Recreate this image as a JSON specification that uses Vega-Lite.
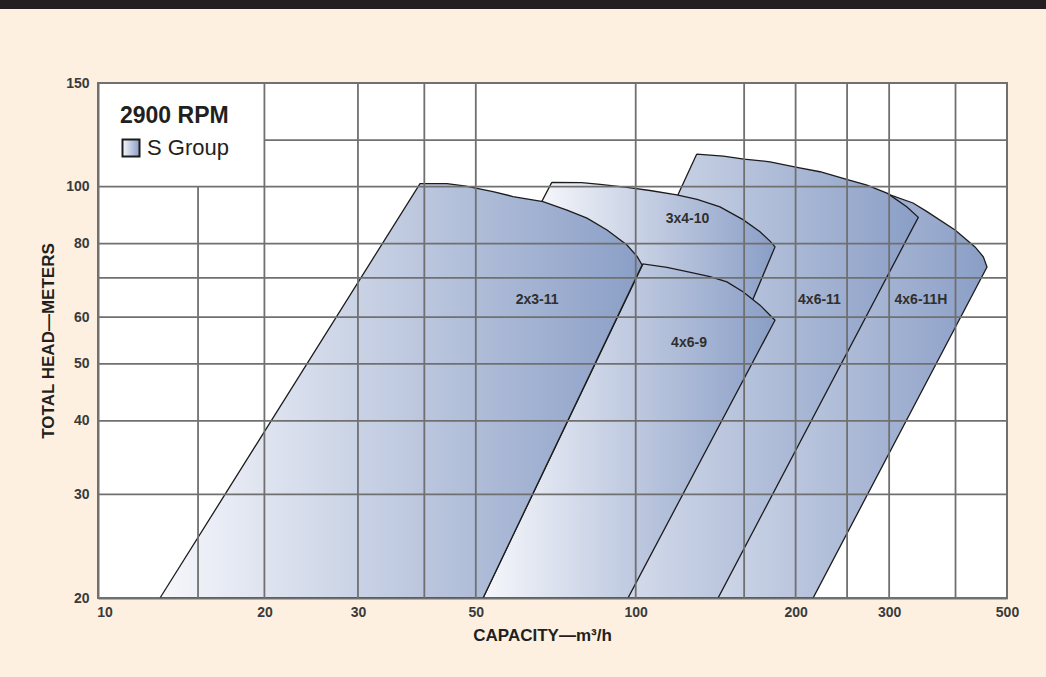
{
  "$schema": "https://vega.github.io/schema/vega-lite/v6.json",
  "background": "#fdf0e1",
  "padding": 0,
  "columns": 2,
  "spacing": {"row": 74, "column": 0},
  "bounds": "flush",
  "align": "each",
  "resolve": {"legend": {"stroke": "independent"}},
  "config": {
    "view": {"stroke": null},
    "font": "Liberation Sans"
  },
  "datasets": {
    "pumps": [
      {"pump": "2x3-11", "i": 1, "q": 12.72, "h": 20},
      {"pump": "2x3-11", "i": 2, "q": 39.26, "h": 101.2},
      {"pump": "2x3-11", "i": 3, "q": 44.13, "h": 101.2},
      {"pump": "2x3-11", "i": 4, "q": 47.92, "h": 100.2},
      {"pump": "2x3-11", "i": 5, "q": 53.87, "h": 98.1},
      {"pump": "2x3-11", "i": 6, "q": 58.75, "h": 96.2},
      {"pump": "2x3-11", "i": 7, "q": 66.92, "h": 94.3},
      {"pump": "2x3-11", "i": 8, "q": 74.24, "h": 91.2},
      {"pump": "2x3-11", "i": 9, "q": 80.96, "h": 88.4},
      {"pump": "2x3-11", "i": 10, "q": 88.31, "h": 84.4},
      {"pump": "2x3-11", "i": 11, "q": 96.3, "h": 79.6},
      {"pump": "2x3-11", "i": 12, "q": 100.6, "h": 76.1},
      {"pump": "2x3-11", "i": 13, "q": 102.8, "h": 73.6},
      {"pump": "2x3-11", "i": 14, "q": 51.59, "h": 20},
      {"pump": "2x3-11", "i": 15, "q": 12.72, "h": 20},

      {"pump": "4x6-9", "i": 1, "q": 51.59, "h": 20},
      {"pump": "4x6-9", "i": 2, "q": 103.2, "h": 73.9},
      {"pump": "4x6-9", "i": 3, "q": 114.5, "h": 72.9},
      {"pump": "4x6-9", "i": 4, "q": 124.9, "h": 71.7},
      {"pump": "4x6-9", "i": 5, "q": 138.0, "h": 70.3},
      {"pump": "4x6-9", "i": 6, "q": 148.5, "h": 68.9},
      {"pump": "4x6-9", "i": 7, "q": 159.2, "h": 66.3},
      {"pump": "4x6-9", "i": 8, "q": 171.4, "h": 62.9},
      {"pump": "4x6-9", "i": 9, "q": 182.9, "h": 59.3},
      {"pump": "4x6-9", "i": 10, "q": 96.7, "h": 20},
      {"pump": "4x6-9", "i": 11, "q": 51.59, "h": 20},

      {"pump": "3x4-10", "i": 1, "q": 69.5, "h": 101.7},
      {"pump": "3x4-10", "i": 2, "q": 79.1, "h": 101.6},
      {"pump": "3x4-10", "i": 3, "q": 85.7, "h": 100.9},
      {"pump": "3x4-10", "i": 4, "q": 96.3, "h": 99.7},
      {"pump": "3x4-10", "i": 5, "q": 106.4, "h": 98.5},
      {"pump": "3x4-10", "i": 6, "q": 119.5, "h": 96.8},
      {"pump": "3x4-10", "i": 7, "q": 130.5, "h": 95.1},
      {"pump": "3x4-10", "i": 8, "q": 144.1, "h": 92.4},
      {"pump": "3x4-10", "i": 9, "q": 159.2, "h": 87.9},
      {"pump": "3x4-10", "i": 10, "q": 171.4, "h": 83.8},
      {"pump": "3x4-10", "i": 11, "q": 179.0, "h": 80.8},
      {"pump": "3x4-10", "i": 12, "q": 182.9, "h": 79.0},
      {"pump": "3x4-10", "i": 13, "q": 157.2, "h": 57.1},
      {"pump": "3x4-10", "i": 14, "q": 91.4, "h": 57.1},
      {"pump": "3x4-10", "i": 15, "q": 66.0, "h": 93.0},
      {"pump": "3x4-10", "i": 16, "q": 69.5, "h": 101.7},

      {"pump": "4x6-11", "i": 1, "q": 130.3, "h": 113.6},
      {"pump": "4x6-11", "i": 2, "q": 146.2, "h": 112.7},
      {"pump": "4x6-11", "i": 3, "q": 159.9, "h": 111.4},
      {"pump": "4x6-11", "i": 4, "q": 179.0, "h": 110.2},
      {"pump": "4x6-11", "i": 5, "q": 201.2, "h": 107.8},
      {"pump": "4x6-11", "i": 6, "q": 222.3, "h": 106.0},
      {"pump": "4x6-11", "i": 7, "q": 250.4, "h": 102.8},
      {"pump": "4x6-11", "i": 8, "q": 272.5, "h": 100.6},
      {"pump": "4x6-11", "i": 9, "q": 297.9, "h": 97.4},
      {"pump": "4x6-11", "i": 10, "q": 323.7, "h": 92.4},
      {"pump": "4x6-11", "i": 11, "q": 340.4, "h": 88.7},
      {"pump": "4x6-11", "i": 12, "q": 142.9, "h": 20},
      {"pump": "4x6-11", "i": 13, "q": 53.6, "h": 20},
      {"pump": "4x6-11", "i": 14, "q": 130.3, "h": 113.6},

      {"pump": "4x6-11H", "i": 1, "q": 157.2, "h": 108.8},
      {"pump": "4x6-11H", "i": 2, "q": 203.9, "h": 105.9},
      {"pump": "4x6-11H", "i": 3, "q": 276.1, "h": 99.4},
      {"pump": "4x6-11H", "i": 4, "q": 301.1, "h": 96.8},
      {"pump": "4x6-11H", "i": 5, "q": 332.7, "h": 93.8},
      {"pump": "4x6-11H", "i": 6, "q": 353.5, "h": 90.7},
      {"pump": "4x6-11H", "i": 7, "q": 399.2, "h": 84.4},
      {"pump": "4x6-11H", "i": 8, "q": 435.3, "h": 79.0},
      {"pump": "4x6-11H", "i": 9, "q": 451.2, "h": 76.0},
      {"pump": "4x6-11H", "i": 10, "q": 458.5, "h": 73.0},
      {"pump": "4x6-11H", "i": 11, "q": 215.7, "h": 20},
      {"pump": "4x6-11H", "i": 12, "q": 72.0, "h": 20},
      {"pump": "4x6-11H", "i": 13, "q": 157.2, "h": 108.8}
    ],
    "pumpLabels": [
      {"pump": "2x3-11", "q": 65.2, "h": 64.3},
      {"pump": "3x4-10", "q": 125.2, "h": 88.1},
      {"pump": "4x6-9", "q": 126.0, "h": 54.3},
      {"pump": "4x6-11", "q": 221.8, "h": 64.2},
      {"pump": "4x6-11H", "q": 344.4, "h": 64.2}
    ],
    "vgrid": [
      {"q": 15, "lo": 20, "hi": 100},
      {"q": 20, "lo": 20, "hi": 150},
      {"q": 30, "lo": 20, "hi": 150},
      {"q": 40, "lo": 20, "hi": 150},
      {"q": 50, "lo": 20, "hi": 150},
      {"q": 100, "lo": 20, "hi": 150},
      {"q": 160, "lo": 20, "hi": 150},
      {"q": 200, "lo": 20, "hi": 150},
      {"q": 250, "lo": 20, "hi": 150},
      {"q": 300, "lo": 20, "hi": 150},
      {"q": 400, "lo": 20, "hi": 150}
    ],
    "hgrid": [
      {"h": 30}, {"h": 40}, {"h": 50}, {"h": 60}, {"h": 70}, {"h": 80}, {"h": 100}
    ],
    "hgridPartial": [
      {"h": 120, "q0": 20, "q1": 500}
    ]
  },
  "concat": [
    {
      "width": 98, "height": 9,
      "view": {"fill": "#231f20"},
      "data": {"values": [{}]},
      "mark": {"type": "point", "opacity": 0}
    },
    {
      "width": 948, "height": 9,
      "view": {"fill": "#231f20"},
      "data": {"values": [{}]},
      "mark": {"type": "point", "opacity": 0}
    },
    {
      "width": 98, "height": 515,
      "data": {"values": [{}]},
      "mark": {"type": "point", "opacity": 0}
    },
    {
      "width": 909,
      "height": 515,
      "view": {"fill": "#ffffff", "stroke": "#707070", "strokeWidth": 2},
      "layer": [
        {
          "data": {"name": "pumps"},
          "transform": [{"filter": "datum.pump === '4x6-11H'"}],
          "mark": {
            "type": "line",
            "strokeWidth": 1.3,
            "fill": {"gradient": "linear", "x1": 0, "y1": 0, "x2": 1, "y2": 0,
              "stops": [{"offset": 0, "color": "#f6f7fb"}, {"offset": 1, "color": "#8a9ec6"}]}
          },
          "encoding": {
            "x": {
              "field": "q", "type": "quantitative",
              "scale": {"type": "log", "domain": [9.722, 500], "nice": false},
              "axis": {
                "values": [10, 20, 30, 50, 100, 200, 300, 500],
                "format": "d",
                "title": "CAPACITY—m³/h",
                "grid": false, "ticks": false,
                "domainColor": "#707070", "domainWidth": 2,
                "labelFont": "Liberation Sans", "labelFontSize": 14, "labelFontWeight": "bold",
                "labelColor": "#3a3a3a", "labelPadding": 7, "labelFlush": false, "labelOverlap": false,
                "titleFont": "Liberation Sans", "titleFontSize": 17, "titleFontWeight": "bold",
                "titleColor": "#231f20", "titlePadding": 8, "titleX": 444,
                "zindex": 1
              }
            },
            "y": {
              "field": "h", "type": "quantitative",
              "scale": {"type": "log", "domain": [20, 150], "nice": false},
              "axis": {
                "values": [20, 30, 40, 50, 60, 80, 100, 150],
                "format": "d",
                "title": "TOTAL HEAD—METERS",
                "grid": false, "ticks": false,
                "domainColor": "#707070", "domainWidth": 2,
                "labelFont": "Liberation Sans", "labelFontSize": 14, "labelFontWeight": "bold",
                "labelColor": "#3a3a3a", "labelPadding": 9, "labelOverlap": false,
                "titleFont": "Liberation Sans", "titleFontSize": 17, "titleFontWeight": "bold",
                "titleColor": "#231f20", "titlePadding": 8,
                "zindex": 1
              }
            },
            "order": {"field": "i", "type": "quantitative"},
            "stroke": {
              "datum": "S Group", "type": "nominal",
              "scale": {"range": ["#1c1c1c"]},
              "legend": {
                "title": "2900 RPM",
                "orient": "top-left", "offset": 22, "padding": 0,
                "symbolType": "square", "symbolSize": 289, "symbolStrokeWidth": 2,
                "symbolFillColor": "#b9c4dc",
                "titleFont": "Liberation Sans", "titleFontSize": 23, "titleFontWeight": "bold",
                "titleColor": "#231f20", "titlePadding": 9,
                "labelFont": "Liberation Sans", "labelFontSize": 22, "labelColor": "#231f20",
                "labelOffset": 5
              }
            }
          }
        },
        {
          "data": {"name": "pumps"},
          "transform": [{"filter": "datum.pump === '4x6-11'"}],
          "mark": {
            "type": "line", "stroke": "#1c1c1c", "strokeWidth": 1.3,
            "fill": {"gradient": "linear", "x1": 0, "y1": 0, "x2": 1, "y2": 0,
              "stops": [{"offset": 0, "color": "#f6f7fb"}, {"offset": 1, "color": "#8a9ec6"}]}
          },
          "encoding": {
            "x": {"field": "q", "type": "quantitative"},
            "y": {"field": "h", "type": "quantitative"},
            "order": {"field": "i", "type": "quantitative"}
          }
        },
        {
          "data": {"name": "pumps"},
          "transform": [{"filter": "datum.pump === '3x4-10'"}],
          "mark": {
            "type": "line", "stroke": "#1c1c1c", "strokeWidth": 1.3,
            "fill": {"gradient": "linear", "x1": 0, "y1": 0, "x2": 1, "y2": 0,
              "stops": [{"offset": 0, "color": "#f6f7fb"}, {"offset": 1, "color": "#8a9ec6"}]}
          },
          "encoding": {
            "x": {"field": "q", "type": "quantitative"},
            "y": {"field": "h", "type": "quantitative"},
            "order": {"field": "i", "type": "quantitative"}
          }
        },
        {
          "data": {"name": "pumps"},
          "transform": [{"filter": "datum.pump === '4x6-9'"}],
          "mark": {
            "type": "line", "stroke": "#1c1c1c", "strokeWidth": 1.3,
            "fill": {"gradient": "linear", "x1": 0, "y1": 0, "x2": 1, "y2": 0,
              "stops": [{"offset": 0, "color": "#f6f7fb"}, {"offset": 1, "color": "#8a9ec6"}]}
          },
          "encoding": {
            "x": {"field": "q", "type": "quantitative"},
            "y": {"field": "h", "type": "quantitative"},
            "order": {"field": "i", "type": "quantitative"}
          }
        },
        {
          "data": {"name": "pumps"},
          "transform": [{"filter": "datum.pump === '2x3-11'"}],
          "mark": {
            "type": "line", "stroke": "#1c1c1c", "strokeWidth": 1.3,
            "fill": {"gradient": "linear", "x1": 0, "y1": 0, "x2": 1, "y2": 0,
              "stops": [{"offset": 0, "color": "#f6f7fb"}, {"offset": 1, "color": "#8a9ec6"}]}
          },
          "encoding": {
            "x": {"field": "q", "type": "quantitative"},
            "y": {"field": "h", "type": "quantitative"},
            "order": {"field": "i", "type": "quantitative"}
          }
        },
        {
          "data": {"name": "vgrid"},
          "mark": {"type": "rule", "color": "#707070", "strokeWidth": 1.8},
          "encoding": {
            "x": {"field": "q", "type": "quantitative"},
            "y": {"field": "lo", "type": "quantitative"},
            "y2": {"field": "hi"}
          }
        },
        {
          "data": {"name": "hgrid"},
          "mark": {"type": "rule", "color": "#707070", "strokeWidth": 1.8},
          "encoding": {
            "y": {"field": "h", "type": "quantitative"}
          }
        },
        {
          "data": {"name": "hgridPartial"},
          "mark": {"type": "rule", "color": "#707070", "strokeWidth": 1.8},
          "encoding": {
            "y": {"field": "h", "type": "quantitative"},
            "x": {"field": "q0", "type": "quantitative"},
            "x2": {"field": "q1"}
          }
        },
        {
          "data": {"name": "pumpLabels"},
          "mark": {"type": "text", "font": "Liberation Sans", "fontSize": 14, "fontWeight": "bold", "color": "#2f2f2f"},
          "encoding": {
            "x": {"field": "q", "type": "quantitative"},
            "y": {"field": "h", "type": "quantitative"},
            "text": {"field": "pump"}
          }
        }
      ]
    },
    {
      "width": 98, "height": 5,
      "data": {"values": [{}]},
      "mark": {"type": "point", "opacity": 0}
    }
  ]
}
